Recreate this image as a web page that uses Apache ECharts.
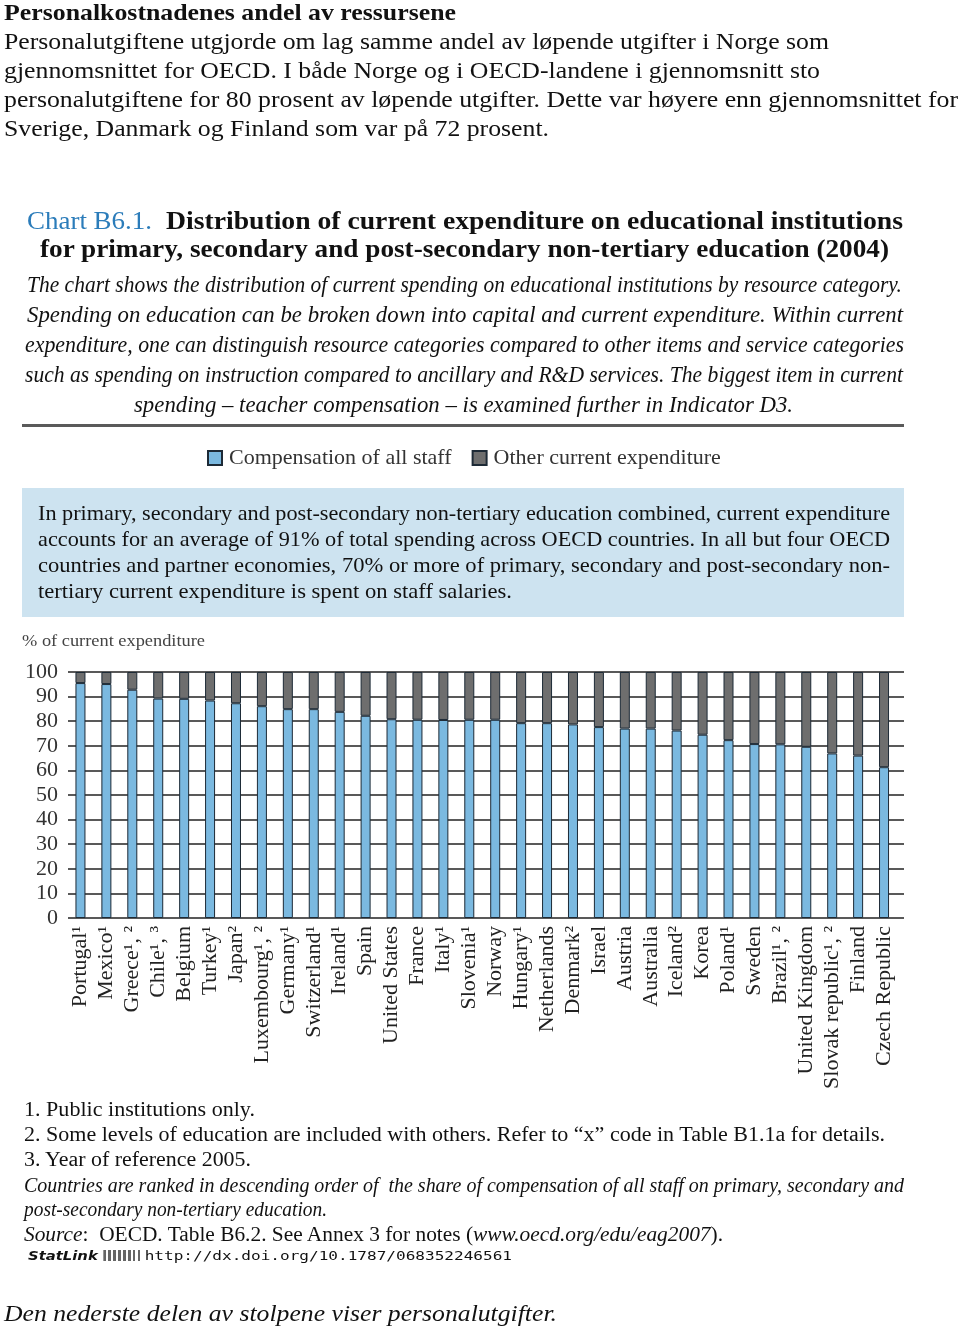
<!DOCTYPE html>
<html>
<head>
<meta charset="utf-8">
<script src="https://cdn.jsdelivr.net/npm/echarts/dist/echarts.min.js"></script>
<style>
  html, body { margin: 0; padding: 0; background: #fff; }
  body { position: relative; width: 960px; height: 1331px; overflow: hidden; }
  #chart { position: absolute; left: 0; top: 0; width: 960px; height: 1331px; z-index: 1; }
  .t { position: absolute; white-space: nowrap; transform-origin: 0 50%; color: #111; z-index: 3; pointer-events: none; }
  #box { position: absolute; left: 22px; top: 488px; width: 882px; height: 129px; background: #cde3f0; z-index: 0; }
  #rule { position: absolute; left: 22px; top: 424px; width: 882px; height: 3px; background: #5a5a5a; z-index: 2; }
  .ic { display: inline-block; width: 30px; height: 11px; background: repeating-linear-gradient(90deg,#666 0 2px,#fff 2px 4px); vertical-align: -1px; margin: 0 4px; }
</style>
</head>
<body>
<div id="box"></div>
<div id="rule"></div>
<div id="chart"></div>
<script>
// ---------- chart data ----------
const countries = [
  "Portugal¹", "Mexico¹", "Greece¹, ²", "Chile¹, ³", "Belgium", "Turkey¹", "Japan²",
  "Luxembourg¹, ²", "Germany¹", "Switzerland¹", "Ireland¹", "Spain", "United States",
  "France", "Italy¹", "Slovenia¹", "Norway", "Hungary¹", "Netherlands", "Denmark²",
  "Israel", "Austria", "Australia", "Iceland²", "Korea", "Poland¹", "Sweden",
  "Brazil¹, ²", "United Kingdom", "Slovak republic¹, ²", "Finland", "Czech Republic"
];
const staffShare = [
  95.5, 95.1, 92.8, 89.2, 89.1, 88.4, 87.3, 86.1, 84.9, 84.9, 83.8, 82.2, 80.8,
  80.6, 80.5, 80.6, 80.6, 79.2, 79.2, 78.7, 77.6, 77.0, 77.0, 76.2, 74.5, 72.3,
  70.7, 70.6, 69.6, 66.9, 66.0, 61.3
];
const otherShare = [
  4.5, 4.9, 7.2, 10.8, 10.9, 11.6, 12.7, 13.9, 15.1, 15.1, 16.2, 17.8, 19.2,
  19.4, 19.5, 19.4, 19.4, 20.8, 20.8, 21.3, 22.4, 23.0, 23.0, 23.8, 25.5, 27.7,
  29.3, 29.4, 30.4, 33.1, 34.0, 38.7
];
const seriesNames = ["Compensation of all staff", "Other current expenditure"];
const yTicks = { min: 0, max: 100, interval: 10 };

// ---------- texts ----------
const SERIF = "'Liberation Serif', 'Times New Roman', serif";
const lines = [
  // [html, x, yCenter, targetWidth, size, style]
  ["Personalkostnadenes andel av ressursene", 4, 12, 452, 24, "font-weight:bold"],
  ["Personalutgiftene utgjorde om lag samme andel av løpende utgifter i Norge som", 4, 41, 825, 24, ""],
  ["gjennomsnittet for OECD. I både Norge og i OECD-landene i gjennomsnitt sto", 4, 70, 816, 24, ""],
  ["personalutgiftene for 80 prosent av løpende utgifter. Dette var høyere enn gjennomsnittet for", 4, 99, 954, 24, ""],
  ["Sverige, Danmark og Finland som var på 72 prosent.", 4, 128, 545, 24, ""],

  ["Chart B6.1.", 27, 220, 125, 25, "color:#2b7cba"],
  ["Distribution of current expenditure on educational institutions", 166, 220, 737, 25, "font-weight:bold"],
  ["for primary, secondary and post-secondary non-tertiary education (2004)", 40, 248, 849, 25, "font-weight:bold"],

  ["The chart shows the distribution of current spending on educational institutions by resource category.", 27, 284, 875, 24, "font-style:italic"],
  ["Spending on education can be broken down into capital and current expenditure. Within current", 27, 314, 876, 24, "font-style:italic"],
  ["expenditure, one can distinguish resource categories compared to other items and service categories", 25, 344, 879, 24, "font-style:italic"],
  ["such as spending on instruction compared to ancillary and R&amp;D services. The biggest item in current", 25, 374, 878, 24, "font-style:italic"],
  ["spending – teacher compensation – is examined further in Indicator D3.", 134, 404, 659, 24, "font-style:italic"],

  ["In primary, secondary and post-secondary non-tertiary education combined, current expenditure", 38, 513, 852, 21, ""],
  ["accounts for an average of 91% of total spending across OECD countries. In all but four OECD", 38, 539, 852, 21, ""],
  ["countries and partner economies, 70% or more of primary, secondary and post-secondary non-", 38, 565, 852, 21, ""],
  ["tertiary current expenditure is spent on staff salaries.", 38, 591, 474, 21, ""],

  ["% of current expenditure", 22, 641, 183, 16, "color:#444"],

  ["1. Public institutions only.", 24, 1109, 231, 20, ""],
  ["2. Some levels of education are included with others. Refer to “x” code in Table B1.1a for details.", 24, 1134, 861, 20, ""],
  ["3. Year of reference 2005.", 24, 1159, 227, 20, ""],
  ["Countries are ranked in descending order of&nbsp; the share of compensation of all staff on primary, secondary and", 24, 1185, 880, 20, "font-style:italic"],
  ["post-secondary non-tertiary education.", 24, 1209, 303, 20, "font-style:italic"],
  ["<i>Source</i>:&nbsp; OECD. Table B6.2. See Annex 3 for notes (<i>www.oecd.org/edu/eag2007</i>).", 24, 1234, 699, 20, ""],
  ["<b style=\"font-family:'DejaVu Sans',sans-serif;font-style:italic;font-size:12px\">StatLink</b><span class=\"ic\"></span><span style=\"font-family:'DejaVu Sans Mono',monospace;font-size:13px\">http://dx.doi.org/10.1787/068352246561</span>", 28, 1256, 484, 14, ""],

  ["Den nederste delen av stolpene viser personalutgifter.", 4, 1313, 553, 24, "font-style:italic"]
];

lines.forEach(([html, x, yc, w, size, style]) => {
  const el = document.createElement('div');
  el.className = 't';
  const lh = Math.round(size * 1.25);
  el.style.cssText += `left:${x}px;top:${Math.round(yc - lh / 2)}px;font-family:${SERIF};font-size:${size}px;line-height:${lh}px;${style}`;
  el.innerHTML = html;
  el.dataset.w = w;
  document.body.appendChild(el);
});
function fit() {
  document.querySelectorAll('.t').forEach(el => {
    el.style.transform = 'none';
    const nat = el.getBoundingClientRect().width;
    const target = +el.dataset.w;
    if (nat > 0) el.style.transform = `scaleX(${target / nat})`;
  });
}
fit();
if (document.fonts && document.fonts.ready) document.fonts.ready.then(fit);

// ---------- chart ----------
const chart = echarts.init(document.getElementById('chart'), null, { renderer: 'canvas' });
const border = { borderColor: '#1d2a36', borderWidth: 1 };
const gridLineAxis = {
  type: 'value',
  min: yTicks.min, max: yTicks.max, interval: yTicks.interval,
  axisLine: { show: false },
  axisTick: { show: false }
};
chart.setOption({
  animation: false,
  backgroundColor: 'transparent',
  legend: {
    left: 202, top: 442,
    icon: 'rect', itemWidth: 14, itemHeight: 14, itemGap: 20,
    textStyle: { fontFamily: SERIF, fontSize: 22, color: '#333', padding: [0, 0, 0, 2] },
    data: seriesNames
  },
  grid: [
    { left: 68, right: 56, top: 672, bottom: 413, containLabel: false },
    { left: 67.5, right: 63, top: 672, bottom: 413, containLabel: false }
  ],
  xAxis: [
    { type: 'category', gridIndex: 0, data: countries, show: false },
    {
      type: 'category', gridIndex: 1,
      data: countries,
      axisLine: { show: false },
      axisTick: { show: false },
      axisLabel: {
        interval: 0, rotate: 90, margin: 8,
        fontFamily: SERIF, fontSize: 22, color: '#222'
      }
    }
  ],
  yAxis: [
    Object.assign({}, gridLineAxis, {
      gridIndex: 0,
      axisLabel: { margin: 10, fontFamily: SERIF, fontSize: 22, color: '#333' },
      splitLine: { lineStyle: { color: '#222', width: 1.5 } }
    }),
    Object.assign({}, gridLineAxis, {
      gridIndex: 1,
      axisLabel: { show: false },
      splitLine: { show: false }
    })
  ],
  series: [
    {
      name: seriesNames[0], type: 'bar', stack: 'total', barWidth: 10,
      xAxisIndex: 1, yAxisIndex: 1,
      itemStyle: Object.assign({ color: '#7bb9e0' }, border),
      data: staffShare
    },
    {
      name: seriesNames[1], type: 'bar', stack: 'total', barWidth: 10,
      xAxisIndex: 1, yAxisIndex: 1,
      itemStyle: Object.assign({ color: '#6e6e6e' }, border),
      data: otherShare
    }
  ]
});
</script>
</body>
</html>
